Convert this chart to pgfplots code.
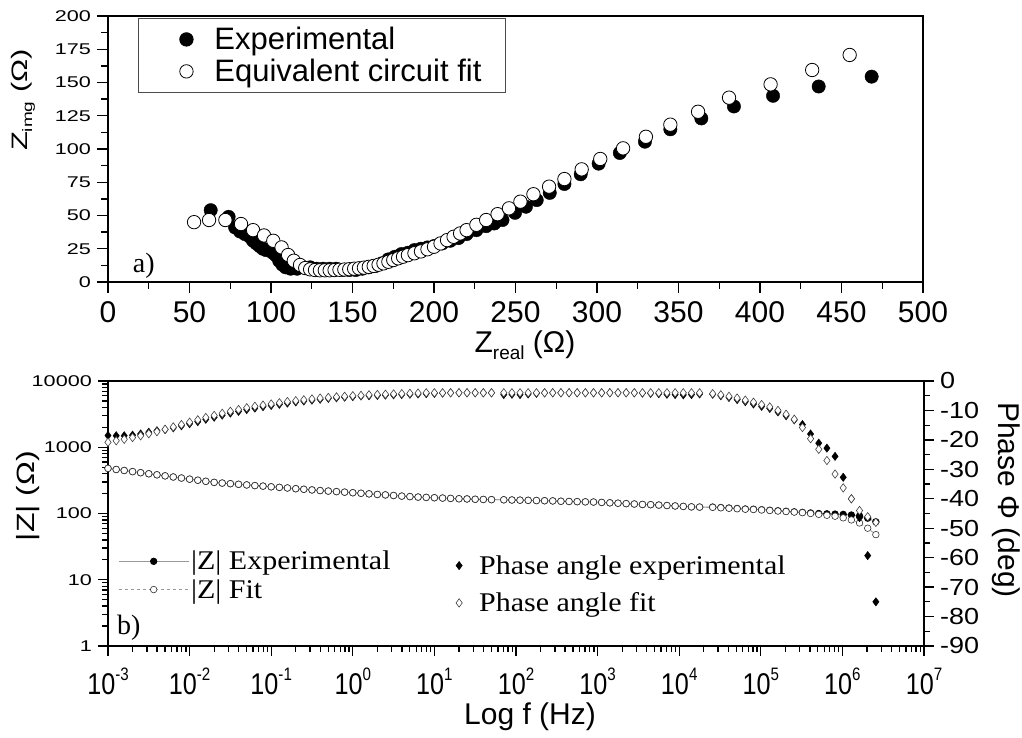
\documentclass[border=0pt]{standalone}
\usepackage{pgfplots}
\pgfplotsset{compat=1.18}
\usepackage{pgfplotstable}
\usepackage{graphicx}
\usepackage{fontspec}
\setmainfont{Liberation Sans}
\newfontfamily\tnr{Liberation Serif}

\pgfplotsset{
  legtop/.style={legend image code/.code={\path[draw=none,fill=none] (-26pt,0pt) -- (26pt,0pt); \draw[mark repeat=2,mark phase=2,##1] plot coordinates {(-26pt,0pt) (0pt,0pt) (26pt,0pt)};}},
  legdia/.style={legend image code/.code={\path[draw=none,fill=none] (-18pt,0pt) -- (18pt,0pt); \draw[mark repeat=2,mark phase=2,##1] plot coordinates {(-18pt,0pt) (0pt,0pt) (18pt,0pt)};}},
  legline/.style={legend image code/.code={\draw[mark repeat=2,mark phase=2,##1] plot coordinates {(0pt,0pt) (35pt,0pt) (70pt,0pt)};}},
}

\pgfplotstableread{
x y
63 54
74 49
78 41
81 38
84 36
87 34
89 31
91 29
93 27
95 25
97 24
99 24
101 22
103 20
105 16
107 13
109 11
112 10
116 10
120 11
124 11
128 10
132 10
136 10
140 10
144 9
148 9
152 9
156 10
160 11
164 12
168 14
172 17
176 19
180 21
184 22
188 24
192 25
196 26
200 27
205 29
210 31
215 33
220 36
226 39
232 42
237 44
242 46.6
249.7 52
256.4 56.6
263 61.6
271 67
280 73.7
290 81
301 89
314 97
329.4 105.5
345 114.8
364 123
384 132
408 140
436 147
468.5 154.4
}\nyqexp

\pgfplotstableread{
x y
52.8 45
62 46.6
72 46.6
81.6 43.6
89 39
95.7 35
101.4 31
106.5 26
110.5 20.3
114 16
117.8 12.8
121 10.5
124 9.5
127 9
130 8.8
133 8.8
136 8.8
139 9
142 9.2
145 9.4
148 9.6
151 10
154 10.3
157 10.8
160 11.4
163 12.1
166 13
169 14
172 15.2
175 16.5
178 17.8
181 19
184 20.2
188 21.6
192 23
196 24.6
200 26.5
204 29
208 31.5
212 34
216 36.5
220 39
226 43
232 46.6
239 51
246 55.4
253 60.4
261 66
270.6 71.7
280 77.4
290.6 84.7
302 92.5
316 100.5
330 109.2
345 118.3
362 128
381 138.6
406.5 148.6
432 159.4
455 170.7
}\nyqfit

\pgfplotstableread{
f zexp zfit pexp pfit
0.001 480 480 -18.5 -20.8
0.00126 462 462 -18.6 -20.3
0.00158 446 446 -18.6 -19.8
0.002 429 429 -18.4 -19.2
0.00251 413 413 -18.0 -18.6
0.00316 398 398 -17.4 -17.9
0.00398 384 384 -16.9 -17.2
0.00501 370 370 -16.5 -16.4
0.00631 356 356 -15.9 -15.6
0.00794 343 343 -15.2 -14.8
0.01 330 330 -14.5 -14.0
0.0126 318 318 -13.8 -13.2
0.0158 306 306 -13.0 -12.4
0.02 295 295 -12.3 -11.7
0.0251 288 288 -11.6 -11.0
0.0316 282 282 -10.9 -10.3
0.0398 276 276 -10.3 -9.7
0.0501 270 270 -9.7 -9.1
0.0631 264 264 -9.2 -8.6
0.0794 259 259 -8.7 -8.2
0.1 253 253 -8.3 -7.8
0.126 248 248 -7.9 -7.4
0.158 243 243 -7.5 -7.0
0.2 237 237 -7.1 -6.7
0.251 232 232 -6.8 -6.4
0.316 227 227 -6.5 -6.1
0.398 222 222 -6.2 -5.8
0.501 218 218 -5.9 -5.6
0.631 214 214 -5.7 -5.4
0.794 210 210 -5.5 -5.2
1 206 206 -5.3 -5.0
1.26 202 202 -5.1 -4.9
1.58 198 198 -5.0 -4.7
2 194 194 -4.9 -4.6
2.51 191 191 -4.8 -4.5
3.16 187 187 -4.7 -4.4
3.98 183 183 -4.6 -4.3
5.01 180 180 -4.5 -4.2
6.31 177 177 -4.4 -4.1
7.94 175 175 -4.3 -4.0
10 173 173 -4.2 -4.0
12.6 171 171 -4.1 -4.0
15.8 169 169 -4.0 -4.0
20 167 167 -4.0 -4.0
25.1 166 166 -4.0 -4.0
31.6 164 164 -4.0 -4.0
39.8 163 163 -4.0 -4.0
50.1 162 162 -4.0 -4.0
70.8 161 161 -4.6 -4.0
89.1 160 160 -4.5 -4.0
112 159 159 -4.6 -4.0
141 158 158 -4.4 -4.0
178 157 157 -4.2 -4.0
224 156 156 -4.0 -4.0
282 155 155 -4.0 -4.0
355 153 153 -4.0 -4.0
447 152 152 -4.0 -4.0
562 151 151 -4.0 -4.0
708 150 150 -4.0 -4.0
891 149 149 -4.0 -4.0
1122 147 147 -4.0 -4.0
1413 145 145 -4.0 -4.0
1778 143 143 -4.0 -4.0
2239 141 141 -4.0 -4.0
2818 139 139 -4.0 -4.0
3548 137 137 -4.1 -4.0
4467 136 136 -4.2 -4.0
5623 134 134 -4.3 -4.0
7079 132 132 -4.5 -4.0
8913 130 130 -4.6 -4.0
11220 128 128 -4.7 -4.0
14125 126 126 -4.6 -4.0
17783 125 125 -4.4 -4.0
25704 125 124 -4.5 -4.3
32359 123 122 -5.0 -4.7
40738 121 120 -5.6 -5.2
51286 119 118 -6.3 -5.8
64565 117 116 -7.0 -6.5
81283 116 115 -7.8 -7.2
102329 114 113 -8.6 -8.0
128825 112 111 -9.3 -8.8
162181 110 109 -10.5 -10.0
204174 108 107 -11.8 -11.3
257040 106 105 -13.2 -13.0
323594 104 103 -14.8 -15.8
407380 102 100 -18.0 -19.6
512861 100 97 -21.1 -23.2
645654 99 94 -22.8 -27.0
812831 98 91 -25.6 -31.6
1023293 97 86 -32.7 -36.3
1288250 95 80 -40.0 -40.0
1621810 92 72 -46.4 -44.0
2041738 85 60 -59.3 -46.1
2570396 75 48 -75.0 -48.0
}\bode

\newcommand{\ytl}[1]{\scalebox{1}[0.72]{#1}}
\newcommand{\ptl}[1]{\scalebox{1}[0.86]{#1}}
\newcommand{\dec}[1]{\scalebox{0.84}[1]{10}\raisebox{14pt}{\scalebox{0.84}[1]{\fontsize{18}{18}\selectfont #1}}}

\begin{document}
\begin{tikzpicture}
\useasboundingbox (0,0) rectangle (1022pt,-738pt);

% ---------------- top: Nyquist ----------------
\begin{axis}[
  at={(108pt,-16pt)}, anchor=north west,
  scale only axis, width=815pt, height=266pt,
  xmin=0, xmax=500, ymin=0, ymax=200,
  xtick={0,50,...,500}, ytick={0,25,...,200},
  minor x tick num=1, minor y tick num=1,
  tick pos=left, tick align=outside,
  major tick length=11pt, minor tick length=7pt,
  axis line style={line width=1.8pt},
  every tick/.style={black, line width=1.4pt},
  /pgf/number format/assume math mode=true,
  xticklabel style={font=\fontsize{30}{30}\selectfont, inner sep=0pt, yshift=-8pt},
  yticklabel style={font=\fontsize{21.6}{22}\selectfont, inner sep=0pt, xshift=-6pt},
  yticklabel={\ytl{\pgfmathprintnumber{\tick}}},
  legend style={at={(0.0368,0.9925)}, anchor=north west, draw=black!70, line width=0.9pt,
    font=\fontsize{31}{34}\selectfont, inner xsep=22pt, inner ysep=7pt, row sep=4pt,
    /tikz/every even column/.append style={column sep=6pt}},
  legend cell align=left,
]
\addplot[only marks, mark=*, mark size=6.7pt, mark options={black, fill=black}, legtop]
  table[x=x,y=y] {\nyqexp};
\addlegendentry{Experimental}
\addplot[only marks, mark=*, mark size=6.7pt, mark options={draw=black, fill=white, line width=0.8pt}, legtop]
  table[x=x,y=y] {\nyqfit};
\addlegendentry{Equivalent circuit fit}
\node[font=\tnr\fontsize{28}{28}\selectfont] at (axis cs:22,12) {a)};
\end{axis}

\node[font=\fontsize{30}{30}\selectfont] at (525pt,-345pt)
  {Z\raisebox{-7pt}{\fontsize{19}{19}\selectfont real} (Ω)};
\node[rotate=90, font=\fontsize{31}{31}\selectfont] at (23pt,-100pt)
  {\scalebox{1}[0.72]{Z\raisebox{-7pt}{\fontsize{19}{19}\selectfont img} (Ω)}};

% ---------------- bottom: |Z| ----------------
\begin{axis}[
  at={(108pt,-381pt)}, anchor=north west,
  scale only axis, width=816pt, height=265pt,
  xmode=log, ymode=log, xmin=1e-3, xmax=1e7, ymin=1, ymax=1e4,
  xtick={1e-3,1e-2,1e-1,1,10,100,1e3,1e4,1e5,1e6,1e7},
  xticklabels={\dec{-3},\dec{-2},\dec{-1},\dec{0},\dec{1},\dec{2},\dec{3},\dec{4},\dec{5},\dec{6},\dec{7}},
  ytick={1,10,100,1000,10000},
  yticklabels={\ytl{1},\ytl{10},\ytl{100},\ytl{1000},\ytl{10000}},
  tick pos=left, tick align=outside,
  major tick length=10pt, minor tick length=6pt,
  axis line style={line width=1.8pt},
  every tick/.style={black, line width=1.3pt},
  xticklabel style={font=\fontsize{30}{30}\selectfont, inner sep=0pt, yshift=-12pt},
  yticklabel style={font=\fontsize{21.6}{22}\selectfont, inner sep=0pt, xshift=-6pt},
  legend style={at={(0.0123,0.366)}, anchor=north west, draw=none, fill=none,
    font=\tnr\fontsize{30}{30}\selectfont, inner sep=0pt, row sep=4pt,
    /tikz/every even column/.append style={column sep=3pt}},
  legend cell align=left,
]
\addplot[gray!80, line width=0.9pt, mark=*, mark size=3.2pt, mark options={solid, black, fill=black}, legline]
  table[x=f,y=zexp] {\bode};
\addlegendentry{\scalebox{1}[0.9]{|Z| Experimental}}
\addplot[gray!80, line width=0.8pt, dashed, mark=*, mark size=3.3pt, mark options={solid, draw=black!80, fill=white, line width=0.6pt}, legline]
  table[x=f,y=zfit] {\bode};
\addlegendentry{\scalebox{1}[0.9]{|Z| Fit}}
\node[font=\tnr\fontsize{28}{28}\selectfont] at (axis cs:0.0018,1.9) {b)};
\end{axis}

% ---------------- bottom: phase ----------------
\begin{axis}[
  at={(108pt,-381pt)}, anchor=north west,
  scale only axis, width=816pt, height=265pt,
  xmode=log, xmin=1e-3, xmax=1e7, ymin=-90, ymax=0,
  axis x line=none, axis y line*=right,
  ytick={-90,-80,...,0}, minor y tick num=1,
  yticklabels={\ptl{-90},\ptl{-80},\ptl{-70},\ptl{-60},\ptl{-50},\ptl{-40},\ptl{-30},\ptl{-20},\ptl{-10},\ptl{0}},
  tick align=outside,
  major tick length=10pt, minor tick length=6pt,
  axis line style={line width=1.8pt},
  every tick/.style={black, line width=1.3pt},
  yticklabel style={font=\fontsize{27}{27}\selectfont, inner sep=0pt, xshift=6pt},
  legend style={at={(0.408,0.35)}, anchor=north west, draw=none, fill=none,
    font=\tnr\fontsize{30}{30}\selectfont, inner sep=0pt, row sep=13pt,
    /tikz/every even column/.append style={column sep=20pt}},
  legend cell align=left,
]
\addplot[only marks, mark=diamond*, mark size=4.2pt, mark options={black, fill=black}, legdia]
  table[x=f,y=pexp] {\bode};
\addlegendentry{\scalebox{1}[0.9]{Phase angle experimental}}
\addplot[only marks, mark=diamond*, mark size=4.2pt, mark options={draw=black!75, fill=white, line width=0.6pt}, legdia]
  table[x=f,y=pfit] {\bode};
\addlegendentry{\scalebox{1}[0.9]{Phase angle fit}}
\end{axis}

\node[font=\fontsize{30}{30}\selectfont] at (530pt,-717pt) {Log f (Hz)};
\node[rotate=90, font=\fontsize{32}{32}\selectfont] at (28pt,-496pt) {\scalebox{1}[0.78]{|Z| (Ω)}};
\node[rotate=-90, font=\fontsize{30}{30}\selectfont] at (1006pt,-500pt) {Phase Φ (deg)};
\end{tikzpicture}
\end{document}
